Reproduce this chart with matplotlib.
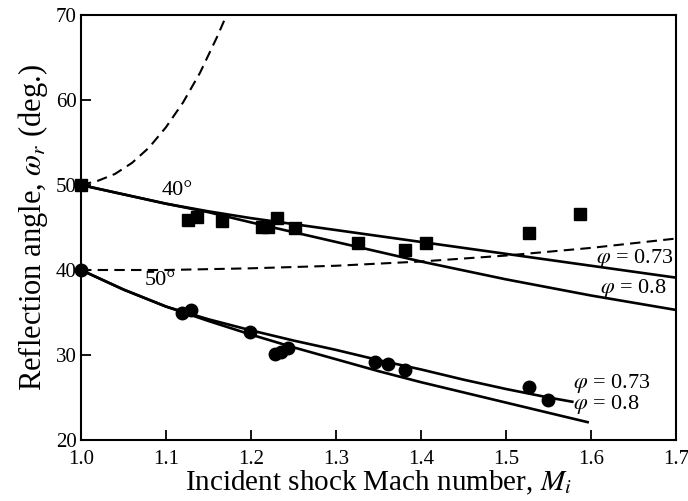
import matplotlib
matplotlib.use('Agg')
from matplotlib import pyplot as plt

plt.rcParams['font.family'] = ['Liberation Serif', 'DejaVu Serif']
plt.rcParams['mathtext.fontset'] = 'stix'

# measured points, 40 deg wedge (squares) and 50 deg wedge (circles)
sq_x = [1.0, 1.126, 1.136, 1.166, 1.213, 1.22, 1.231, 1.252, 1.326, 1.381, 1.406, 1.527, 1.587]
sq_y = [50.0, 45.9, 46.2, 45.8, 45.1, 45.1, 46.1, 44.9, 43.2, 42.4, 43.2, 44.3, 46.6]

ci_x = [1.0, 1.119, 1.13, 1.199, 1.228, 1.235, 1.243, 1.346, 1.361, 1.381, 1.527, 1.549]
ci_y = [40.0, 34.9, 35.3, 32.7, 30.1, 30.4, 30.8, 29.2, 28.9, 28.2, 26.2, 24.7]

# theory curves, 40 deg
t40_x = [1.0, 1.05, 1.1, 1.15, 1.2, 1.3, 1.4, 1.5, 1.6, 1.7]
t40_073 = [50.0, 48.9, 47.8, 46.9, 46.1, 44.7, 43.3, 41.9, 40.5, 39.1]
t40_08 = [50.0, 48.9, 47.8, 46.8, 45.6, 43.3, 41.0, 38.9, 37.0, 35.3]

# theory curves, 50 deg
t50_x = [1.0, 1.05, 1.1, 1.15, 1.2, 1.25, 1.3, 1.35, 1.4, 1.45, 1.5, 1.55]
t50_073 = [40.0, 37.7, 35.7, 34.2, 32.9, 31.7, 30.6, 29.4, 28.3, 27.1, 26.0, 25.0]
t50_08 = [40.0, 37.7, 35.7, 34.0, 32.4, 30.9, 29.5, 28.1, 26.8, 25.6, 24.4, 23.2]
t50_073_end = (1.578, 24.5)
t50_08_end = (1.596, 22.1)

# dashed curves
d40_x = [1.0, 1.02, 1.04, 1.06, 1.08, 1.1, 1.12, 1.14, 1.16, 1.18]
d40_y = [50.0, 50.5, 51.3, 52.6, 54.4, 56.8, 59.7, 63.2, 67.4, 72.0]
d50_x = [1.0, 1.1, 1.2, 1.3, 1.4, 1.5, 1.6, 1.7]
d50_y = [40.0, 40.0, 40.2, 40.5, 41.0, 41.7, 42.6, 43.7]

fig = plt.figure(figsize=(6.88, 5.01), dpi=100)
ax = fig.add_axes([81 / 688, 1 - 440 / 501, 595 / 688, 425 / 501])

lw = 1.9
ax.plot(t40_x, t40_073, color='black', lw=lw)
ax.plot(t40_x, t40_08, color='black', lw=lw)
ax.plot(t50_x + [t50_073_end[0]], t50_073 + [t50_073_end[1]], color='black', lw=lw)
ax.plot(t50_x + [t50_08_end[0]], t50_08 + [t50_08_end[1]], color='black', lw=lw)
ax.plot(d40_x, d40_y, color='black', lw=1.5, linestyle=(0, (5, 3)))
ax.plot(d50_x, d50_y, color='black', lw=1.5, linestyle=(0, (5, 3)))

ax.plot(sq_x, sq_y, linestyle='none', marker='s', markersize=9, color='black', clip_on=False)
ax.plot(ci_x, ci_y, linestyle='none', marker='o', markersize=9, color='black', clip_on=False)

ax.text(1.113, 49.3, '40°', fontsize=16, ha='center', va='center')
ax.text(1.093, 38.8, '50°', fontsize=16, ha='center', va='center')
ax.text(1.697, 41.4, r'$\varphi$ = 0.73', fontsize=16, ha='right', va='center')
ax.text(1.611, 37.8, r'$\varphi$ = 0.8', fontsize=16, ha='left', va='center')
ax.text(1.579, 26.7, r'$\varphi$ = 0.73', fontsize=16, ha='left', va='center')
ax.text(1.579, 24.2, r'$\varphi$ = 0.8', fontsize=16, ha='left', va='center')

ax.set_xlim(1.0, 1.7)
ax.set_ylim(20, 70)
ax.set_xticks([1.0, 1.1, 1.2, 1.3, 1.4, 1.5, 1.6, 1.7])
ax.set_yticks([20, 30, 40, 50, 60, 70])
ax.tick_params(direction='in', length=7, width=1.3, labelsize=15)
ax.tick_params(axis='x', pad=7)
ax.tick_params(axis='y', pad=3)
for s in ax.spines.values():
    s.set_linewidth(1.5)

ax.set_xlabel(r'Incident shock Mach number, $M_i$', fontsize=21, labelpad=0)
ax.set_ylabel(r'Reflection angle, $\omega_r$ (deg.)', fontsize=22, labelpad=4)

fig.savefig('out.png', dpi=100)
